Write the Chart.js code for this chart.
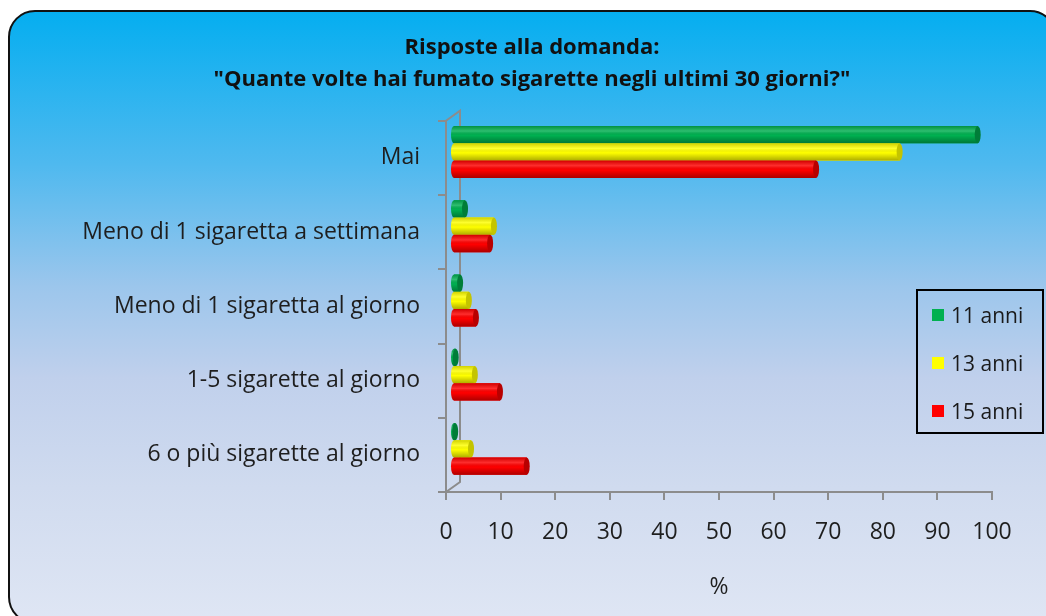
<!DOCTYPE html>
<html>
<head>
<meta charset="utf-8">
<script src="https://cdn.jsdelivr.net/npm/chart.js@4.4.0/dist/chart.umd.min.js"></script>
<style>
    html, body { margin: 0; padding: 0; background: #fff; }
    #wrap { position: relative; width: 1046px; height: 616px; overflow: hidden; }
    #frame {
        position: absolute; left: 8px; top: 10px; width: 1049px; height: 614px;
        box-sizing: border-box; border: 2px solid #111; border-radius: 27px;
        background: linear-gradient(to bottom, #05aef0 0%, #4fb9ef 25%, #9cc6ec 45%, #c0d0ec 60%, #d0dbef 78%, #dfe6f4 100%);
    }
    #chart { position: absolute; left: 0; top: 0; }
    #legend {
        position: absolute; left: 916px; top: 289px; width: 128px; height: 145px;
        box-sizing: border-box; border: 2px solid #000;
        font-family: "Open Sans", sans-serif; font-size: 21px; color: #1a1a1a;
        padding-top: 0;
    }
    .item { display: flex; align-items: center; height: 48px; padding-left: 14px; }
    .item span { display: inline-block; width: 12px; height: 12px; margin-right: 7px; }
</style>
</head>
<body>
<div id="wrap">
    <div id="frame"></div>
    <canvas id="chart" width="1046" height="616"></canvas>
    <div id="legend"></div>
</div>
<script>
// =============================
// DATA
// =============================
const categories = [
    "Mai",
    "Meno di 1 sigaretta a settimana",
    "Meno di 1 sigaretta al giorno",
    "1-5 sigarette al giorno",
    "6 o più sigarette al giorno"
];
const seriesNames = ["11 anni", "13 anni", "15 anni"];
const anni11 = [96.1, 2.2, 1.3, 0.5, 0.4];
const anni13 = [81.8, 7.5, 2.9, 4.0, 3.3];
const anni15 = [66.5, 6.8, 4.2, 8.6, 13.5];
const xTicks = [0, 10, 20, 30, 40, 50, 60, 70, 80, 90, 100];

const colors = ["#00b050", "#ffff00", "#ff0000"];
const capColors = ["#007d38", "#c4c400", "#b80000"];
const AXIS = "#8c8c8c";
const TEXT = "#1e1e1e";
const DEPTH_X = 7, DEPTH_Y = -6;

Chart.defaults.font.family = '"Open Sans", sans-serif';

// =============================
// BACK WALL (3D look)
// =============================
const wallPlugin = {
    id: "wall",
    beforeDatasetsDraw(chart) {
        const {ctx, chartArea: a} = chart;
        ctx.save();
        ctx.strokeStyle = AXIS;
        ctx.lineWidth = 2;
        ctx.beginPath();
        ctx.moveTo(a.left, a.top);
        ctx.lineTo(a.left + 14, a.top - 10);
        ctx.lineTo(a.left + 14, a.bottom - 10);
        ctx.lineTo(a.left, a.bottom);
        ctx.stroke();
        ctx.restore();
    }
};

// =============================
// CYLINDER BARS
// =============================
const cylinderPlugin = {
    id: "cylinder",
    beforeDatasetsDraw(chart) {
        chart.ctx.save();
        chart.ctx.translate(DEPTH_X, DEPTH_Y);
    },
    afterDatasetsDraw(chart) {
        const ctx = chart.ctx;
        chart.data.datasets.forEach((ds, i) => {
            chart.getDatasetMeta(i).data.forEach(bar => {
                const {x, y, base, height} = bar.getProps(["x", "y", "base", "height"], true);
                const top = y - height / 2, h = height, rx = 3;

                ctx.beginPath();
                ctx.ellipse(base, y, rx, h / 2, 0, Math.PI / 2, Math.PI * 1.5);
                ctx.lineTo(x, top);
                ctx.lineTo(x, top + h);
                ctx.closePath();
                ctx.fillStyle = colors[i];
                ctx.fill();

                const g = ctx.createLinearGradient(0, top, 0, top + h);
                g.addColorStop(0, "rgba(0,0,0,0.18)");
                g.addColorStop(0.3, "rgba(255,255,255,0.18)");
                g.addColorStop(0.55, "rgba(0,0,0,0)");
                g.addColorStop(1, "rgba(0,0,0,0.32)");
                ctx.fillStyle = g;
                ctx.fill();

                ctx.beginPath();
                ctx.ellipse(x, y, rx, h / 2, 0, 0, Math.PI * 2);
                ctx.fillStyle = capColors[i];
                ctx.fill();
            });
        });
        ctx.restore();
    }
};

const seriesData = [anni11, anni13, anni15];

new Chart(document.getElementById("chart"), {
    type: "bar",
    data: {
        labels: categories,
        datasets: seriesNames.map((name, i) => ({
            label: name,
            data: seriesData[i],
            backgroundColor: colors[i],
            categoryPercentage: 0.7,
            barPercentage: 1.0
        }))
    },
    options: {
        indexAxis: "y",
        responsive: false,
        animation: false,
        layout: { padding: { left: 72, right: 54, top: 0, bottom: 0 } },
        plugins: {
            legend: { display: false },
            tooltip: { enabled: false },
            title: {
                display: true,
                text: ["Risposte alla domanda:", "\"Quante volte hai fumato sigarette negli ultimi 30 giorni?\""],
                color: "#111",
                font: { size: 22, weight: "bold", lineHeight: 1.45 },
                padding: { top: 32, bottom: 25 }
            }
        },
        scales: {
            x: {
                min: 0,
                max: 100,
                afterBuildTicks: s => { s.ticks = xTicks.map(v => ({ value: v })); },
                afterFit: s => { s.height = 124; },
                ticks: { color: TEXT, font: { size: 23 }, padding: 19 },
                grid: { drawOnChartArea: false, tickLength: 8, color: AXIS, lineWidth: 2 },
                border: { color: AXIS, width: 2 },
                title: {
                    display: true, text: "%", color: TEXT,
                    font: { size: 23 }, padding: { top: 0, bottom: 15 }
                }
            },
            y: {
                afterFit: s => { s.width = 374; },
                ticks: { color: TEXT, font: { size: 23 }, padding: 18 },
                grid: { drawOnChartArea: false, offset: true, tickLength: 8, color: AXIS, lineWidth: 2 },
                border: { color: AXIS, width: 2 }
            }
        }
    },
    plugins: [wallPlugin, cylinderPlugin]
});

// =============================
// LEGEND
// =============================
document.getElementById("legend").innerHTML = seriesNames
    .map((n, i) => `<div class="item"><span style="background:${colors[i]}"></span>${n}</div>`)
    .join("");
</script>
</body>
</html>
